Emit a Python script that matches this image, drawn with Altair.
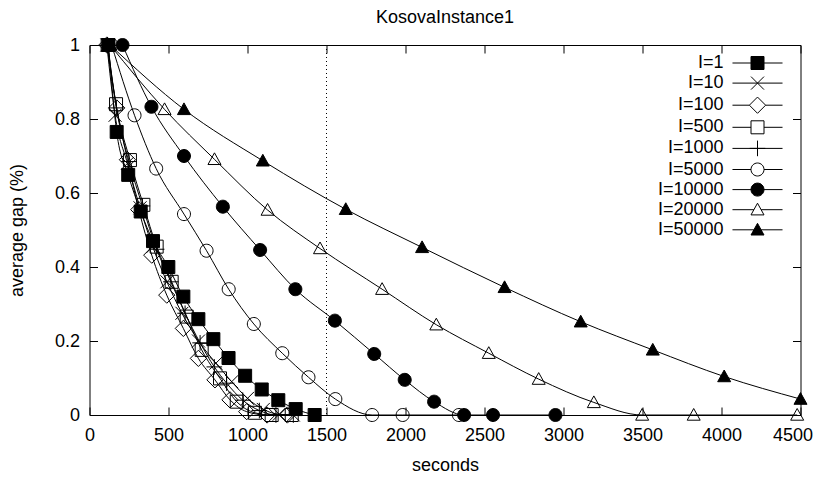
import altair as alt
import pandas as pd

labels = ["I=1", "I=10", "I=100", "I=500", "I=1000", "I=5000", "I=10000", "I=20000", "I=50000"]

x_i1 = [120, 172, 245, 324, 402, 499, 594, 689, 784, 880, 985, 1090, 1195, 1305, 1425]
y_i1 = [1.0, 0.765, 0.649, 0.55, 0.47, 0.40, 0.32, 0.259, 0.205, 0.154, 0.106, 0.069, 0.040, 0.016, 0.0]

x_i10 = [110, 162, 240, 320, 400, 490, 585, 690, 800, 900, 1000, 1100, 1200, 1290]
y_i10 = [1.0, 0.81, 0.68, 0.56, 0.455, 0.36, 0.275, 0.20, 0.14, 0.09, 0.045, 0.015, 0.002, 0.0]

x_i100 = [110, 172, 240, 312, 394, 489, 594, 689, 794, 889, 995, 1124, 1252]
y_i100 = [1.0, 0.83, 0.69, 0.555, 0.432, 0.324, 0.234, 0.153, 0.095, 0.041, 0.009, 0.0, 0.0]

x_i500 = [115, 168, 256, 341, 425, 520, 615, 710, 826, 932, 1047, 1153, 1280]
y_i500 = [1.0, 0.84, 0.689, 0.568, 0.455, 0.36, 0.266, 0.176, 0.099, 0.036, 0.006, 0.0, 0.0]

x_i1000 = [115, 170, 250, 335, 425, 515, 605, 700, 790, 868, 970, 1075, 1180, 1290]
y_i1000 = [1.0, 0.83, 0.685, 0.565, 0.448, 0.36, 0.275, 0.195, 0.13, 0.086, 0.04, 0.012, 0.0, 0.0]

x_i5000 = [140, 285, 422, 598, 741, 881, 1040, 1220, 1386, 1556, 1789, 1982, 2338]
y_i5000 = [1.0, 0.81, 0.666, 0.543, 0.444, 0.340, 0.246, 0.167, 0.102, 0.043, 0.0, 0.0, 0.0]

x_i10000 = [209, 392, 598, 844, 1080, 1303, 1553, 1802, 1995, 2181, 2371, 2554, 2949]
y_i10000 = [1.0, 0.833, 0.700, 0.563, 0.446, 0.340, 0.255, 0.165, 0.095, 0.036, 0.0, 0.0, 0.0]

x_i20000 = [130, 475, 791, 1127, 1459, 1852, 2195, 2527, 2843, 3192, 3498, 3824, 4479]
y_i20000 = [1.0, 0.826, 0.691, 0.554, 0.450, 0.340, 0.244, 0.167, 0.097, 0.034, 0.0, 0.0, 0.0]

x_i50000 = [130, 598, 1097, 1622, 2105, 2627, 3109, 3565, 4017, 4500]
y_i50000 = [1.0, 0.826, 0.687, 0.556, 0.453, 0.345, 0.252, 0.176, 0.104, 0.043]

x_ticks = [0, 500, 1000, 1500, 2000, 2500, 3000, 3500, 4000, 4500]
y_ticks = [0, 0.2, 0.4, 0.6, 0.8, 1.0]
marker_x = [1500]

series = [
    (labels[0], x_i1, y_i1), (labels[1], x_i10, y_i10), (labels[2], x_i100, y_i100),
    (labels[3], x_i500, y_i500), (labels[4], x_i1000, y_i1000), (labels[5], x_i5000, y_i5000),
    (labels[6], x_i10000, y_i10000), (labels[7], x_i20000, y_i20000), (labels[8], x_i50000, y_i50000),
]
rows = []
for name, xs, ys in series:
    for a, b in zip(xs, ys):
        rows.append({"series": name, "sec": a, "gap": b})
df = pd.DataFrame(rows)
rule_df = pd.DataFrame({"sec": marker_x})

# marker shapes
SQ = "M-1,-1H1V1H-1Z"
XX = "M-1,-1L1,1M-1,1L1,-1"
DM = "M0,-1.25L1.25,0L0,1.25L-1.25,0Z"
PL = "M-1.2,0H1.2M0,-1.2V1.2"
CI = "M-1,0A1,1,0,1,0,1,0A1,1,0,1,0,-1,0Z"
TR = "M0,-1L1,0.8H-1Z"
shapes = [SQ, XX, DM, SQ, PL, CI, CI, TR, TR]
fills = ["black", "transparent", "transparent", "transparent", "transparent",
         "transparent", "black", "transparent", "black"]
strokes = ["black"] * 9

L = 3.85
def seg(a):
    return f"M-{L},0H-{a}M{a},0H{L}"
leg_shapes = [
    seg(1) + SQ,
    f"M-{L},0H{L}" + XX,
    seg(1.25) + DM,
    seg(1) + SQ,
    f"M-{L},0H{L}" + PL,
    seg(1) + CI,
    seg(1) + CI,
    seg(0.556) + TR,
    seg(0.556) + TR,
]

FONT = "Liberation Sans"
FS = 18
W, H = 711, 370

xs_scale = alt.Scale(domain=[0, 4500], nice=False, zero=False)
ys_scale = alt.Scale(domain=[0, 1], nice=False)

def tick_axis(orient, offset, values):
    return alt.Axis(orient=orient, offset=offset, values=values, labels=False, domain=False,
                    ticks=True, tickSize=8, tickColor="black", tickWidth=1, grid=False, title=None)

# last x label sits flush against the right edge, as in the reference
rule = alt.Chart(rule_df).mark_rule(color="black", strokeWidth=1, strokeDash=[1, 3]).encode(
    x=alt.X("sec:Q", scale=xs_scale,
            axis=alt.Axis(orient="bottom", values=x_ticks[-1:], title=None, ticks=False, domain=False,
                          grid=False, labelPadding=11, format="d", labelFlush=True,
                          labelFlushOffset=12, labelOverlap=False))
)

lines = alt.Chart(df).mark_line(color="black", strokeWidth=1, interpolate="monotone").encode(
    x=alt.X("sec:Q", scale=xs_scale,
            axis=alt.Axis(orient="bottom", values=x_ticks[:-1], title="seconds", ticks=False,
                          domain=False, grid=False, labelPadding=11, titlePadding=12, format="d",
                          labelFlush=False, labelOverlap=False, titleX=355.5)),
    y=alt.Y("gap:Q", scale=ys_scale,
            axis=alt.Axis(orient="left", values=y_ticks, title="average gap (%)", ticks=False,
                          domain=False, grid=False, labelPadding=10, titlePadding=28, format="~g",
                          labelFlush=False, labelOverlap=False)),
    detail="series:N",
)

points = alt.Chart(df).mark_point(size=169, stroke="black", strokeWidth=1, opacity=1).encode(
    x=alt.X("sec:Q", scale=xs_scale, axis=tick_axis("top", -H, x_ticks)),
    y=alt.Y("gap:Q", scale=ys_scale, axis=tick_axis("right", -W, y_ticks)),
    shape=alt.Shape("series:N", scale=alt.Scale(domain=labels, range=shapes), legend=None),
    fill=alt.Fill("series:N", scale=alt.Scale(domain=labels, range=fills), legend=None),
)

leg = alt.Legend(title=None, orient="none", legendX=569, legendY=9, padding=0, symbolSize=169,
                 symbolStrokeWidth=1, symbolStrokeColor="black", labelFontSize=FS, labelFont=FONT,
                 labelColor="black", labelAlign="right", labelOffset={"expr": "-43"}, symbolOffset=90,
                 rowPadding=2.1, labelLimit=300)

legend_layer = alt.Chart(df).mark_point(size=169, strokeWidth=1, opacity=1).encode(
    x=alt.X("sec:Q", scale=xs_scale, axis=tick_axis("bottom", -H, x_ticks)),
    y=alt.Y("gap:Q", scale=ys_scale, axis=tick_axis("left", -W, y_ticks)),
    shape=alt.Shape("series:N", scale=alt.Scale(domain=labels, range=leg_shapes), legend=leg),
    fill=alt.Fill("series:N", scale=alt.Scale(domain=labels, range=fills), legend=leg),
    stroke=alt.Stroke("series:N", scale=alt.Scale(domain=labels, range=strokes), legend=leg),
).transform_filter("false")

chart = alt.layer(rule, lines, points, legend_layer).resolve_axis(
    x="independent", y="independent"
).resolve_scale(shape="independent", fill="independent", stroke="independent").properties(
    width=W, height=H,
    title=alt.TitleParams("KosovaInstance1", font=FONT, fontSize=FS, fontWeight="normal",
                          color="black", offset=8),
    autosize=alt.AutoSizeParams(type="none"),
    padding={"left": 81.5, "top": 37, "right": 15, "bottom": 64},
).configure_view(stroke="black", strokeWidth=1).configure_axis(
    labelFont=FONT, labelFontSize=FS, labelColor="black", titleFont=FONT, titleFontSize=FS,
    titleColor="black", titleFontWeight="normal"
)

chart.save("out.html", embed_options={"renderer": "svg", "actions": False})
